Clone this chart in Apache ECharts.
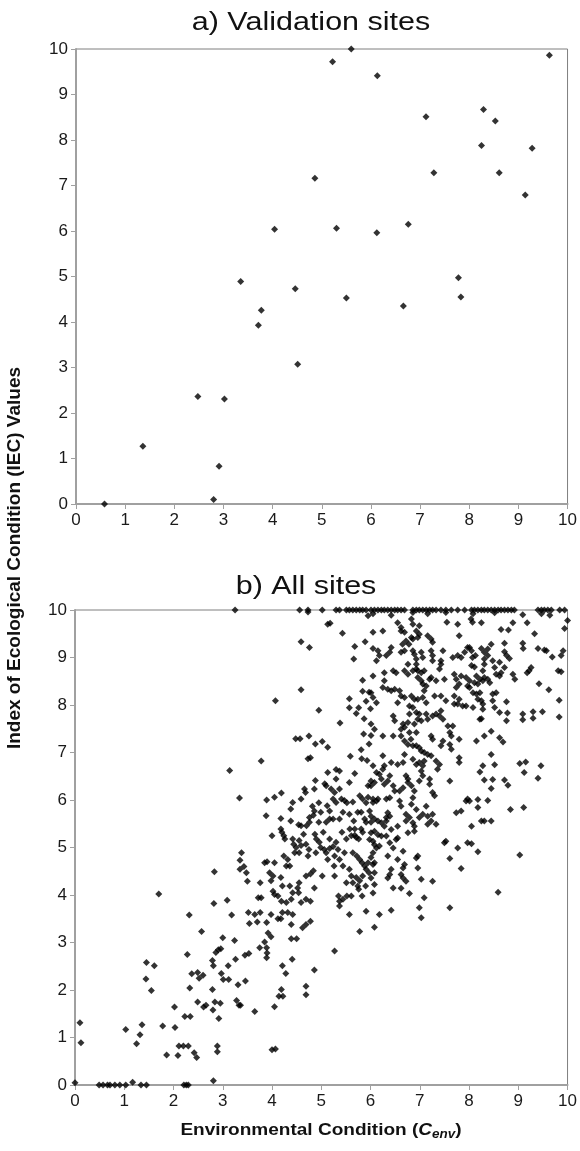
<!DOCTYPE html>
<html>
<head>
<meta charset="utf-8">
<title>IEC vs Cenv</title>
<script src="https://cdn.jsdelivr.net/npm/echarts@6/dist/echarts.min.js"></script>
<style>
  html, body { margin: 0; padding: 0; background: #fff; }
  #main { width: 580px; height: 1151px; }
</style>
</head>
<body>
<div id="main"></div>
<script type="text/javascript">
// titles and axis names
var panelTitles = ['a) Validation sites', 'b) All sites'];
var yAxisName = 'Index of Ecological Condition (IEC) Values';
var xAxisName = ['Environmental Condition (', 'C', 'env', ')'];
var axisTicks = [0, 1, 2, 3, 4, 5, 6, 7, 8, 9, 10];

// a) validation sites [Cenv, IEC]
var validationSites = [
  [0.58, 0], [1.36, 1.27], [2.48, 2.36], [3.02, 2.31], [2.91, 0.83], [2.80, 0.10],
  [3.35, 4.89], [3.77, 4.26], [3.71, 3.93], [4.46, 4.73], [4.51, 3.07], [4.86, 7.16],
  [4.04, 6.04], [5.60, 10.0], [5.22, 9.72], [6.13, 9.41], [9.63, 9.86], [7.12, 8.51],
  [8.29, 8.67], [8.53, 8.42], [8.25, 7.88], [9.28, 7.82], [7.28, 7.28], [8.61, 7.28],
  [9.14, 6.79], [5.30, 6.06], [6.12, 5.96], [6.76, 6.15], [7.78, 4.97], [7.83, 4.55],
  [5.50, 4.53], [6.66, 4.35]
];

// b) all sites, low Cenv part
var allSitesLow = [
  [0, 0.05], [0.10, 1.31], [0.12, 0.89], [0.49, 0], [0.57, 0], [0.66, 0], [0.71, 0], [0.81, 0],
  [0.91, 0], [1.03, 0], [1.17, 0.06], [1.34, 0], [1.45, 0], [1.03, 1.17], [1.25, 0.87], [1.32, 1.06],
  [1.36, 1.27], [1.45, 2.58], [1.61, 2.51], [1.44, 2.23], [1.55, 1.99], [1.70, 4.02], [1.78, 1.24],
  [1.86, 0.63], [2.02, 1.64], [2.03, 1.21], [2.09, 0.62], [2.11, 0.82], [2.20, 0.82], [2.30, 0.82],
  [2.23, 1.44], [2.34, 1.44], [2.28, 2.75], [2.32, 3.58], [2.33, 2.04], [2.37, 2.34], [2.42, 0.68],
  [2.47, 0.58], [2.21, 0], [2.26, 0], [2.30, 0], [2.49, 1.75], [2.57, 3.23], [2.49, 2.37], [2.52, 2.25],
  [2.60, 2.31], [2.61, 1.64], [2.66, 1.68], [2.81, 0.09], [2.79, 2.01], [2.80, 1.58], [2.84, 1.75],
  [2.89, 0.82], [2.89, 0.70], [2.92, 1.40], [2.95, 1.72], [2.79, 2.62], [2.81, 2.51], [2.86, 2.79],
  [2.91, 2.85], [2.96, 2.87], [3.00, 3.10], [2.82, 3.82], [2.83, 4.49], [2.97, 2.35], [3.01, 2.22],
  [3.11, 2.51], [3.12, 2.22], [3.09, 3.89], [3.18, 3.58], [3.24, 3.04], [3.26, 2.65], [3.31, 2.11],
  [3.28, 1.78], [3.33, 1.68], [3.36, 1.68], [3.45, 2.73], [3.46, 2.19], [3.35, 4.73], [3.35, 4.54],
  [3.43, 4.60], [3.48, 4.47], [3.50, 4.29], [3.52, 3.63], [3.54, 3.40], [3.53, 2.77],
  [3.25, 10], [3.14, 6.62], [4.00, 0.74], [4.07, 0.76]
];

// b) all sites, Cenv 3.3 - 6
var allSitesMid = [
  [4.56, 10], [4.73, 10], [5.02, 10], [5.30, 10], [5.37, 10], [5.51, 10], [5.57, 10], [5.64, 10],
  [5.71, 10], [5.78, 10], [5.84, 10], [5.91, 10], [4.73, 9.96],
  [5.95, 9.88], [5.18, 9.72], [5.13, 9.70], [5.43, 9.51], [4.59, 9.33], [4.76, 9.21], [5.68, 9.23],
  [5.89, 9.33], [5.66, 8.97], [6.05, 9.19],
  [4.59, 8.32], [4.07, 8.09], [4.95, 7.89], [5.38, 7.62], [5.57, 8.13], [5.57, 7.94], [5.71, 7.82],
  [5.76, 7.94], [5.84, 8.52], [5.84, 8.29], [5.97, 8.27], [5.91, 8.08], [5.87, 7.71], [6.00, 7.92],
  [5.86, 7.39], [6.01, 7.36],
  [4.48, 7.29], [4.57, 7.29], [4.75, 7.35], [4.88, 7.18], [5.02, 7.23], [5.13, 7.11], [4.73, 6.87],
  [4.78, 6.89], [3.78, 6.82], [5.59, 6.92], [5.81, 7.06], [5.82, 6.87], [5.93, 6.83], [5.97, 7.18],
  [3.34, 6.04], [5.13, 6.58], [5.30, 6.64], [5.37, 6.61], [5.68, 6.56], [5.57, 6.37], [5.30, 6.44],
  [4.88, 6.41], [5.07, 6.34], [5.10, 6.30], [5.20, 6.23], [5.27, 6.16], [5.37, 6.23], [4.86, 6.23],
  [4.66, 6.23], [4.68, 6.16], [4.19, 6.15], [4.05, 6.06], [3.89, 6.00], [4.59, 6.02], [4.42, 5.95],
  [4.38, 5.81], [4.82, 5.87], [4.86, 5.77], [4.84, 5.68], [4.76, 5.63], [4.95, 5.94], [4.99, 5.74],
  [5.12, 5.88], [5.17, 5.77], [5.24, 6.02], [5.30, 5.95], [5.41, 6.02], [5.47, 5.99], [5.52, 5.94],
  [5.64, 5.96], [5.78, 6.09], [5.84, 6.02], [5.95, 6.06], [5.91, 5.94], [6.05, 5.95], [5.95, 6.30],
  [6.01, 6.30],
  [5.74, 5.74], [5.81, 5.74], [5.66, 5.56], [5.44, 5.74], [5.57, 5.70], [5.37, 5.60], [5.17, 5.60],
  [5.10, 5.53], [5.24, 5.60], [4.76, 5.53], [4.70, 5.46], [4.59, 5.46], [4.54, 5.48], [4.95, 5.53],
  [4.38, 5.56], [4.18, 5.61], [3.88, 5.67], [4.00, 5.25], [4.18, 5.39], [4.20, 5.32], [4.24, 5.25],
  [4.26, 5.18], [4.42, 5.18], [4.44, 5.07], [4.49, 5.00], [4.46, 4.89], [4.55, 5.15], [4.59, 5.04],
  [4.55, 4.89], [4.64, 5.28], [4.69, 5.07], [4.75, 4.96], [4.73, 4.82], [4.87, 5.28], [4.90, 5.18],
  [4.96, 5.11], [4.99, 5.00], [5.06, 4.96], [5.17, 4.98], [5.24, 5.02], [5.30, 5.11], [5.34, 4.96],
  [5.42, 5.32], [5.51, 5.18], [5.61, 5.25], [5.68, 5.26], [5.71, 5.21], [5.76, 5.18], [5.58, 5.39],
  [5.68, 5.39], [5.81, 5.39], [5.84, 5.32], [5.88, 5.60], [5.91, 5.53], [6.01, 5.53], [6.08, 5.60],
  [5.64, 4.89], [5.72, 4.82], [5.78, 4.75], [5.83, 4.68], [5.88, 4.61], [5.95, 4.68], [6.01, 4.79],
  [5.91, 4.54], [5.97, 4.47], [5.57, 4.54], [5.61, 4.40], [5.71, 4.37], [5.64, 4.26], [5.74, 4.19],
  [5.78, 4.30], [5.84, 4.40], [5.90, 4.19], [5.27, 4.40], [5.26, 4.61], [5.44, 4.61], [5.10, 4.89],
  [5.13, 4.75], [5.02, 4.40], [4.84, 4.51], [4.78, 4.44], [4.69, 4.40], [4.55, 4.26], [4.52, 4.15],
  [4.36, 4.61], [4.32, 4.75], [4.24, 4.82], [4.29, 4.61], [4.05, 4.68], [3.85, 4.68], [3.90, 4.70],
  [3.95, 4.47], [4.02, 4.40], [3.38, 4.89], [3.76, 4.26], [3.98, 4.30], [4.18, 4.37], [4.21, 4.19],
  [4.36, 4.19], [4.42, 4.05], [4.39, 3.91], [4.29, 3.84], [4.59, 3.84], [4.69, 3.91], [4.78, 3.87],
  [4.86, 4.15], [4.54, 4.05], [4.02, 4.08], [4.05, 4.01], [4.12, 3.98], [4.19, 3.87], [3.72, 3.94],
  [3.78, 3.94], [3.65, 3.59], [3.76, 3.63], [3.98, 3.59], [4.21, 3.63], [4.32, 3.63], [4.42, 3.59],
  [4.12, 3.50], [4.18, 3.50], [4.39, 3.38], [3.89, 3.42], [3.70, 3.43], [4.62, 3.31], [4.69, 3.38],
  [4.78, 3.45], [4.39, 3.08], [4.50, 3.08], [3.92, 3.20], [3.98, 3.12], [3.85, 3.01], [3.75, 2.89],
  [3.89, 2.89], [3.90, 2.78], [3.89, 2.68], [4.41, 2.65], [4.21, 2.51], [4.28, 2.35], [4.86, 2.42],
  [5.27, 2.82], [4.19, 2.01], [4.14, 1.87], [4.22, 1.87], [4.69, 2.08], [4.69, 1.90], [4.05, 1.65],
  [3.65, 1.55],
  [5.35, 3.98], [5.37, 3.87], [5.37, 3.77], [5.44, 3.91], [5.52, 3.98], [5.57, 3.59], [5.91, 3.66],
  [5.78, 3.23], [5.76, 4.12], [5.83, 3.98], [5.51, 4.26], [5.61, 3.98], [5.27, 4.82], [5.37, 4.75],
  [5.47, 4.89], [5.04, 5.32], [5.17, 5.18], [4.89, 4.89]
];

// b) all sites, Cenv 6 - 8, upper half
var allSitesUpper = [
  [6.01, 10], [6.08, 10], [6.15, 10], [6.22, 10], [6.28, 10], [6.35, 10], [6.42, 10], [6.49, 10],
  [6.55, 10], [6.62, 10], [6.69, 10], [6.86, 10], [6.93, 10], [6.99, 10], [7.06, 10], [7.13, 10],
  [7.20, 10], [7.26, 10], [7.33, 10], [7.43, 10], [7.53, 10], [7.64, 10], [7.77, 10], [7.91, 10],
  [6.05, 9.92], [6.42, 9.89], [6.86, 9.95], [7.16, 9.92], [7.53, 9.95],
  [6.55, 9.73], [6.62, 9.63], [6.83, 9.81], [6.86, 9.70], [6.99, 9.67], [7.55, 9.74], [7.77, 9.70],
  [8.04, 9.81], [8.07, 9.74],
  [6.05, 9.53], [6.25, 9.56], [6.62, 9.56], [6.69, 9.53], [6.93, 9.56], [6.99, 9.49], [6.96, 9.42],
  [6.83, 9.42], [6.86, 9.39], [7.16, 9.46], [7.23, 9.39], [7.26, 9.32], [6.72, 9.35], [6.78, 9.28],
  [6.65, 9.28], [7.80, 9.46],
  [6.15, 9.14], [6.18, 9.04], [6.42, 9.21], [6.39, 9.11], [6.32, 9.04], [6.69, 9.14], [6.62, 9.11],
  [6.86, 9.14], [6.89, 9.07], [6.93, 8.97], [7.03, 9.11], [7.06, 9.00], [7.23, 9.14], [7.26, 9.04],
  [7.26, 8.93], [7.47, 9.14], [7.43, 8.93], [7.67, 9.00], [7.77, 9.04], [7.84, 9.00], [7.91, 9.11],
  [7.97, 9.21], [8.07, 9.00],
  [6.12, 8.93], [6.93, 8.86], [6.93, 8.76], [6.76, 8.86], [7.43, 8.86], [7.40, 8.76], [6.05, 8.61],
  [6.28, 8.68], [6.28, 8.51], [6.46, 8.72], [6.52, 8.68], [6.69, 8.72], [6.76, 8.65], [6.86, 8.72],
  [6.96, 8.72], [7.03, 8.68], [7.09, 8.72], [6.96, 8.58], [7.03, 8.51], [7.06, 8.44], [7.13, 8.40],
  [7.20, 8.54], [7.23, 8.58], [7.33, 8.51], [7.50, 8.54], [7.70, 8.65], [7.74, 8.54], [7.84, 8.61],
  [7.94, 8.58], [7.74, 8.37], [7.80, 8.44], [7.97, 8.40],
  [6.25, 8.37], [6.35, 8.33], [6.42, 8.30], [6.49, 8.33], [6.59, 8.30], [6.62, 8.19], [6.69, 8.16],
  [6.83, 8.19], [6.89, 8.12], [6.96, 8.12], [7.09, 8.30], [7.06, 8.16], [7.13, 8.05], [7.30, 8.19],
  [7.43, 8.19], [7.53, 8.09], [7.70, 8.19], [7.80, 8.12], [6.01, 8.26], [6.05, 8.16], [6.12, 8.05],
  [7.94, 7.98], [7.87, 7.98], [7.70, 8.02], [7.77, 8.02], [6.55, 8.05], [6.79, 7.98], [6.86, 7.95],
  [6.93, 7.84], [6.99, 7.81], [6.79, 7.81], [6.96, 7.70], [7.03, 7.67], [7.13, 7.81], [7.16, 7.70],
  [7.26, 7.77], [7.33, 7.81], [7.40, 7.77], [7.47, 7.70], [7.43, 7.88], [6.46, 7.77], [6.49, 7.67],
  [6.66, 7.60], [6.76, 7.63], [6.01, 7.60], [6.08, 7.49], [6.62, 7.49], [6.69, 7.53], [7.57, 7.56],
  [7.67, 7.56], [6.89, 7.60], [6.93, 7.42], [6.79, 7.42], [6.25, 7.35], [6.46, 7.35], [6.62, 7.35],
  [7.23, 7.35], [7.26, 7.28], [7.61, 7.42], [7.64, 7.35], [7.80, 7.28],
  [6.82, 7.28], [6.69, 7.24], [6.76, 7.17], [6.86, 7.14], [6.93, 7.14], [6.99, 7.10], [7.03, 7.03],
  [7.09, 7.00], [7.16, 6.96], [7.23, 6.93], [7.43, 7.14], [7.47, 7.24], [7.61, 7.17], [7.64, 7.07],
  [7.33, 6.82], [7.40, 6.75], [7.36, 6.65], [7.09, 6.82], [7.06, 6.72], [6.99, 6.79], [6.69, 6.96],
  [6.66, 6.79], [6.55, 6.75], [6.86, 6.86], [6.93, 6.75], [6.25, 6.93], [6.28, 6.72], [6.25, 6.65],
  [6.42, 6.79], [7.80, 6.89], [7.80, 6.79], [6.05, 6.72], [6.12, 6.58], [6.18, 6.54], [6.22, 6.44],
  [6.08, 6.37], [6.01, 6.40], [6.28, 6.33], [6.35, 6.40], [6.39, 6.51], [6.46, 6.30], [6.49, 6.19],
  [6.59, 6.19], [6.66, 6.26], [6.76, 6.37], [6.83, 6.30], [6.89, 6.19], [6.86, 6.05], [6.72, 6.51],
  [6.76, 6.44], [7.03, 6.61], [7.06, 6.51], [6.99, 6.40], [7.20, 6.44], [7.20, 6.33], [7.26, 6.16],
  [7.30, 6.09], [7.61, 6.40],
  [6.05, 6.02], [6.12, 5.98], [6.15, 6.02], [6.32, 6.02], [6.39, 6.05], [6.59, 5.98], [6.62, 5.87],
  [6.83, 5.91], [6.93, 5.80], [7.13, 5.87], [7.74, 5.73], [7.84, 5.77], [7.94, 5.98], [7.97, 6.02],
  [5.98, 5.77], [6.01, 5.66], [6.35, 5.73], [6.32, 5.63], [7.26, 5.70], [7.16, 5.66], [6.72, 5.70],
  [6.79, 5.63]
];

// b) all sites, Cenv 6 - 8, lower half
var allSitesLower = [
  [6.32, 5.56], [6.39, 5.66], [6.15, 5.56], [6.22, 5.52], [6.28, 5.45], [6.42, 5.38], [6.55, 5.45],
  [6.72, 5.56], [6.86, 5.52], [6.89, 5.45], [6.99, 5.63], [7.06, 5.70], [7.16, 5.49], [7.23, 5.56],
  [7.33, 5.49], [6.76, 5.31], [6.89, 5.34], [6.01, 5.31], [6.08, 5.34], [6.15, 5.27], [6.22, 5.24],
  [6.32, 5.24], [5.98, 5.17], [6.05, 5.13], [6.08, 5.06], [6.12, 4.99], [6.18, 5.03], [6.39, 5.10],
  [6.46, 4.99], [6.52, 5.17], [6.55, 5.20], [6.66, 4.92], [7.53, 5.13], [7.50, 5.10], [7.77, 4.99],
  [7.97, 5.10], [6.05, 4.89], [6.35, 4.82], [6.55, 4.75], [6.96, 4.82], [6.93, 4.78], [7.61, 4.77],
  [6.08, 4.68], [6.05, 4.64], [6.69, 4.64], [6.66, 4.57], [6.96, 4.57], [7.84, 4.56], [6.08, 4.47],
  [6.01, 4.36], [6.42, 4.54], [6.39, 4.43], [6.35, 4.36], [6.62, 4.43], [6.66, 4.36], [6.72, 4.29],
  [7.03, 4.33], [7.26, 4.29], [6.08, 4.22], [6.46, 4.15], [6.62, 4.14], [6.79, 4.03], [6.05, 4.04],
  [7.09, 3.94], [6.99, 3.73], [7.03, 3.52], [6.42, 3.68], [7.61, 3.73], [6.18, 3.59], [6.08, 3.32]
];

// b) all sites, Cenv 8 - 10
var allSitesHigh = [
  [8.05, 10], [8.11, 10], [8.18, 10], [8.25, 10], [8.31, 10], [8.38, 10], [8.45, 10], [8.52, 10],
  [8.59, 10], [8.65, 10], [8.72, 10], [8.79, 10], [8.86, 10], [8.92, 10], [9.40, 10], [9.47, 10],
  [9.53, 10], [9.60, 10], [9.67, 10], [9.84, 10], [9.94, 10],
  [8.08, 9.92], [8.52, 9.94], [9.47, 9.92], [9.64, 9.89], [9.09, 9.90], [8.25, 9.73], [8.89, 9.73],
  [9.18, 9.73], [10, 9.78], [9.94, 9.61], [8.65, 9.59], [8.80, 9.58], [9.33, 9.50],
  [8.01, 9.21], [8.05, 9.14], [8.45, 9.28], [8.38, 9.18], [8.31, 9.11], [8.38, 9.04], [8.31, 8.97],
  [8.72, 9.30], [8.72, 9.12], [8.76, 9.05], [8.25, 9.19], [8.13, 9.04], [9.09, 9.30], [9.10, 9.19],
  [9.40, 9.19], [9.53, 9.16], [9.57, 9.14], [8.62, 8.90], [8.82, 8.98], [8.48, 8.93], [9.91, 9.14],
  [9.87, 9.04], [9.69, 9.01],
  [8.05, 8.83], [8.11, 8.80], [8.31, 8.86], [8.28, 8.72], [8.31, 8.58], [8.28, 8.51], [8.52, 8.79],
  [8.55, 8.65], [8.62, 8.61], [8.65, 8.68], [8.72, 8.79], [9.26, 8.79], [9.22, 8.72], [9.18, 8.68],
  [9.81, 8.72], [9.87, 8.70], [8.89, 8.65], [8.93, 8.54], [8.15, 8.61], [8.22, 8.54], [8.18, 8.44],
  [8.11, 8.47], [8.38, 8.54], [8.42, 8.47], [8.01, 8.51], [8.01, 8.37], [9.42, 8.45], [9.62, 8.32],
  [8.08, 8.26], [8.15, 8.23], [8.22, 8.26], [8.18, 8.12], [8.25, 8.09], [8.48, 8.23], [8.55, 8.26],
  [8.48, 8.09], [8.52, 7.95], [8.76, 8.07], [9.83, 8.10], [8.08, 7.95], [8.28, 8.02], [8.28, 7.91],
  [8.62, 7.84], [8.78, 7.83], [8.76, 7.67], [8.25, 7.71], [8.22, 7.70], [9.09, 7.81], [9.09, 7.69],
  [9.30, 7.86], [9.30, 7.72], [9.49, 7.86], [9.83, 7.75],
  [8.45, 7.45], [8.31, 7.35], [8.15, 7.24], [8.62, 7.31], [8.69, 7.22], [8.45, 6.96], [8.28, 6.72],
  [8.22, 6.59], [8.52, 6.74], [9.03, 6.77], [9.15, 6.80], [9.12, 6.58], [9.46, 6.72], [9.40, 6.46],
  [8.31, 6.42], [8.48, 6.43], [8.45, 6.24], [8.72, 6.42], [8.79, 6.31], [8.01, 5.98], [8.18, 6.01],
  [8.18, 5.84], [8.38, 5.99], [8.84, 5.80], [9.11, 5.84], [8.25, 5.56], [8.31, 5.56], [8.45, 5.56],
  [8.05, 5.45], [8.05, 5.08], [8.18, 4.91], [9.03, 4.84], [8.59, 4.06]
];

var allSites = allSitesLow.concat(allSitesMid, allSitesUpper, allSitesLower, allSitesHigh);

var myChart = echarts.init(document.getElementById('main'));

var fontFamily = '"Liberation Sans", Arial, sans-serif';
var axisGrey = '#a0a0a0';
// the source figure's lettering is a little wider than plain Arial
var textStretch = 1.22;

function makeAxis(gridIndex) {
    return {
        type: 'value',
        gridIndex: gridIndex,
        min: axisTicks[0],
        max: axisTicks[axisTicks.length - 1],
        interval: 1,
        splitLine: { show: false },
        axisLine: { show: true, lineStyle: { color: axisGrey, width: 2 } },
        axisTick: { show: true, length: 5, lineStyle: { color: axisGrey, width: 1 } },
        axisLabel: { color: '#1a1a1a', fontSize: 17, fontFamily: fontFamily, margin: 8 }
    };
}

var option = {
    animation: false,
    backgroundColor: '#fff',
    grid: [
        { left: 76, top: 49, width: 492, height: 455, show: true, borderColor: '#7f7f7f', borderWidth: 1 },
        { left: 75, top: 610, width: 493, height: 475, show: true, borderColor: '#7f7f7f', borderWidth: 1 }
    ],
    xAxis: [makeAxis(0), makeAxis(1)],
    yAxis: [makeAxis(0), makeAxis(1)],
    graphic: [
        {
            type: 'text', x: 311, y: 23, scaleX: textStretch,
            style: { text: panelTitles[0], font: '25px ' + fontFamily, fill: '#111', textAlign: 'center', textVerticalAlign: 'middle' }
        },
        {
            type: 'text', x: 306, y: 587, scaleX: textStretch,
            style: { text: panelTitles[1], font: '25px ' + fontFamily, fill: '#111', textAlign: 'center', textVerticalAlign: 'middle' }
        },
        {
            type: 'text', x: 15, y: 558, rotation: Math.PI / 2,
            style: { text: yAxisName, font: 'bold 19px ' + fontFamily, fill: '#111', textAlign: 'center', textVerticalAlign: 'middle' }
        },
        {
            type: 'text', x: 321, y: 1130, scaleX: 1.12,
            style: {
                text: '{a|' + xAxisName[0] + '}{c|' + xAxisName[1] + '}{s|' + xAxisName[2] + '}{a|' + xAxisName[3] + '}',
                align: 'center',
                verticalAlign: 'middle',
                rich: {
                    a: { fontSize: 17, fontWeight: 'bold', fontFamily: fontFamily, fill: '#111', lineHeight: 22 },
                    c: { fontSize: 17, fontWeight: 'bold', fontStyle: 'italic', fontFamily: fontFamily, fill: '#111', lineHeight: 22 },
                    s: { fontSize: 12, fontWeight: 'bold', fontStyle: 'italic', fontFamily: fontFamily, fill: '#111', lineHeight: 12, verticalAlign: 'bottom' }
                }
            }
        }
    ],
    series: [
        {
            name: 'Validation sites',
            type: 'scatter',
            xAxisIndex: 0, yAxisIndex: 0,
            symbol: 'diamond',
            symbolSize: 7,
            clip: false,
            itemStyle: { color: '#000' },
            data: validationSites
        },
        {
            name: 'All sites',
            type: 'scatter',
            xAxisIndex: 1, yAxisIndex: 1,
            symbol: 'diamond',
            symbolSize: 7,
            clip: false,
            itemStyle: { color: '#000' },
            data: allSites
        }
    ]
};

myChart.setOption(option);
</script>
</body>
</html>
